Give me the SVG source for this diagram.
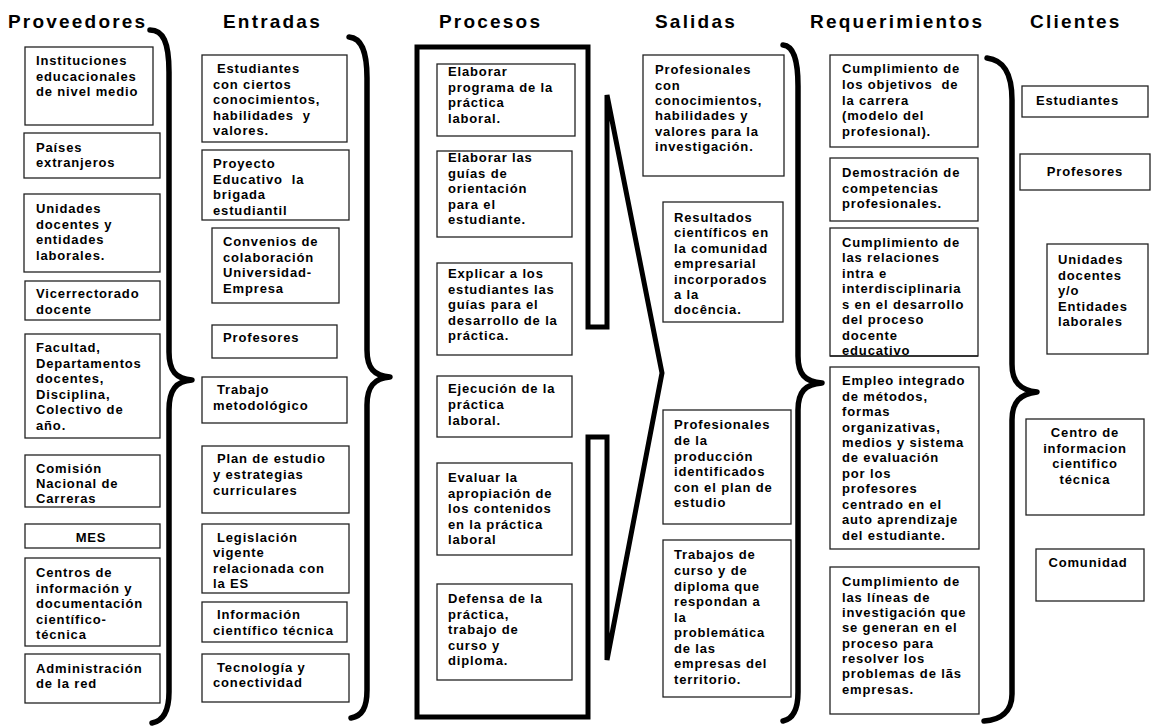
<svg xmlns="http://www.w3.org/2000/svg" width="1153" height="726" viewBox="0 0 1153 726">
  <style>
    .title { font-family: "Liberation Sans", Arial, sans-serif; font-weight: bold; font-size: 19px; letter-spacing: 2.2px; fill: #000; }
    .t { font-family: "Liberation Sans", Arial, sans-serif; font-weight: bold; font-size: 13px; letter-spacing: 0.85px; fill: #000; white-space: pre; }
    .c { text-anchor: middle; }
    .box { fill: #fff; stroke: #222; stroke-width: 1.3; }
    .brace { fill: none; stroke: #000; stroke-width: 5.5; stroke-linecap: round; stroke-linejoin: round; }
    .frame { fill: #fff; stroke: #000; stroke-width: 5; stroke-linejoin: miter; }
  </style>
  <defs>
    <clipPath id="clip-req3"><rect x="830" y="228" width="148" height="128"/></clipPath>
  </defs>
  <rect width="1153" height="726" fill="#fff"/>

  <!-- column headings -->
  <g id="headings">
    <text class="title" x="8" y="28">Proveedores</text>
    <text class="title" x="223" y="28">Entradas</text>
    <text class="title" x="439" y="28">Procesos</text>
    <text class="title" x="655" y="28">Salidas</text>
    <text class="title" x="810" y="28">Requerimientos</text>
    <text class="title" x="1030" y="28">Clientes</text>
  </g>

  <!-- braces and the process frame/arrow -->
  <g id="connectors">
    <path class="brace" d="M150,30 C163,30 169,42 169,72 L169,352 C169,371 176,379 192,380 C176,381 169,390 169,410 L169,692 C169,712 163,721 152,723"/>
    <path class="brace" d="M349,37 C361,38 367,50 367,78 L367,350 C367,368 374,376 390,377 C374,378 367,387 367,405 L367,690 C367,708 362,716 351,718"/>
    <path class="brace" d="M783,45 C793,46 798,58 798,86 L798,356 C798,374 805,382 822,383 C805,384 798,392 798,410 L798,692 C798,710 793,719 783,721"/>
    <path class="brace" d="M987,58 C1003,60 1012,72 1012,100 L1012,364 C1012,382 1020,390 1037,392 C1020,394 1012,402 1012,420 L1012,694 C1012,712 1000,720 984,721"/>
    <path class="frame" d="M417,47 L588,47 L588,327 L607,327 L607,95 L662,373 L607,660 L607,437 L588,437 L588,717 L417,717 Z"/>
  </g>

  <!-- Proveedores -->
  <g id="prov-1"><rect class="box" x="25" y="47" width="128" height="78"/>
    <text class="t"><tspan x="36" y="65">Instituciones</tspan><tspan x="36" y="80.5">educacionales</tspan><tspan x="36" y="96">de nivel medio</tspan></text></g>
  <g id="prov-2"><rect class="box" x="24" y="133" width="136" height="45"/>
    <text class="t"><tspan x="36" y="152">Países</tspan><tspan x="36" y="167">extranjeros</tspan></text></g>
  <g id="prov-3"><rect class="box" x="24" y="194" width="136" height="78"/>
    <text class="t"><tspan x="36" y="213">Unidades</tspan><tspan x="36" y="228.5">docentes y</tspan><tspan x="36" y="244">entidades</tspan><tspan x="36" y="259.5">laborales.</tspan></text></g>
  <g id="prov-4"><rect class="box" x="25" y="281" width="135" height="39"/>
    <text class="t"><tspan x="36" y="298">Vicerrectorado</tspan><tspan x="36" y="314">docente</tspan></text></g>
  <g id="prov-5"><rect class="box" x="25" y="334" width="135" height="104"/>
    <text class="t"><tspan x="36" y="352">Facultad,</tspan><tspan x="36" y="367.6">Departamentos</tspan><tspan x="36" y="383.2">docentes,</tspan><tspan x="36" y="398.8">Disciplina,</tspan><tspan x="36" y="414.4">Colectivo de</tspan><tspan x="36" y="430">año.</tspan></text></g>
  <g id="prov-6"><rect class="box" x="25" y="455" width="135" height="52"/>
    <text class="t"><tspan x="36" y="473">Comisión</tspan><tspan x="36" y="488">Nacional de</tspan><tspan x="36" y="503">Carreras</tspan></text></g>
  <g id="prov-7"><rect class="box" x="25" y="524" width="135" height="24"/>
    <text class="t c" x="91" y="542">MES</text></g>
  <g id="prov-8"><rect class="box" x="25" y="558" width="135" height="88"/>
    <text class="t"><tspan x="36" y="577">Centros de</tspan><tspan x="36" y="592.5">información y</tspan><tspan x="36" y="608">documentación</tspan><tspan x="36" y="623.5">científico-</tspan><tspan x="36" y="639">técnica</tspan></text></g>
  <g id="prov-9"><rect class="box" x="25" y="654" width="135" height="49"/>
    <text class="t"><tspan x="36" y="673">Administración</tspan><tspan x="36" y="688">de la red</tspan></text></g>

  <!-- Entradas -->
  <g id="ent-1"><rect class="box" x="202" y="55" width="145" height="87"/>
    <text class="t"><tspan x="217" y="73">Estudiantes</tspan><tspan x="213" y="88.5">con ciertos</tspan><tspan x="213" y="104">conocimientos,</tspan><tspan x="213" y="119.5">habilidades  y</tspan><tspan x="213" y="135">valores.</tspan></text></g>
  <g id="ent-2"><rect class="box" x="202" y="150" width="147" height="70"/>
    <text class="t"><tspan x="213" y="168">Proyecto</tspan><tspan x="213" y="184">Educativo  la</tspan><tspan x="213" y="199">brigada</tspan><tspan x="213" y="215">estudiantil</tspan></text></g>
  <g id="ent-3"><rect class="box" x="212" y="228" width="127" height="75"/>
    <text class="t"><tspan x="223" y="246">Convenios de</tspan><tspan x="223" y="261.5">colaboración</tspan><tspan x="223" y="277">Universidad-</tspan><tspan x="223" y="292.5">Empresa</tspan></text></g>
  <g id="ent-4"><rect class="box" x="212" y="325" width="125" height="33"/>
    <text class="t" x="223" y="342">Profesores</text></g>
  <g id="ent-5"><rect class="box" x="202" y="377" width="145" height="46"/>
    <text class="t"><tspan x="217" y="394">Trabajo</tspan><tspan x="213" y="410">metodológico</tspan></text></g>
  <g id="ent-6"><rect class="box" x="202" y="446" width="147" height="67"/>
    <text class="t"><tspan x="217" y="463">Plan de estudio</tspan><tspan x="213" y="479">y estrategias</tspan><tspan x="213" y="495">curriculares</tspan></text></g>
  <g id="ent-7"><rect class="box" x="202" y="524" width="147" height="69"/>
    <text class="t"><tspan x="217" y="542">Legislación</tspan><tspan x="213" y="557">vigente</tspan><tspan x="213" y="573">relacionada con</tspan><tspan x="213" y="588">la ES</tspan></text></g>
  <g id="ent-8"><rect class="box" x="202" y="602" width="145" height="40"/>
    <text class="t"><tspan x="217" y="619">Información</tspan><tspan x="213" y="635">científico técnica</tspan></text></g>
  <g id="ent-9"><rect class="box" x="202" y="654" width="147" height="48"/>
    <text class="t"><tspan x="217" y="672">Tecnología y</tspan><tspan x="213" y="687">conectividad</tspan></text></g>

  <!-- Procesos -->
  <g id="proc-1"><rect class="box" x="437" y="64" width="138" height="72"/>
    <text class="t"><tspan x="448" y="76">Elaborar</tspan><tspan x="448" y="91.5">programa de la</tspan><tspan x="448" y="107">práctica</tspan><tspan x="448" y="122.5">laboral.</tspan></text></g>
  <g id="proc-2"><rect class="box" x="437" y="151" width="135" height="86"/>
    <text class="t"><tspan x="448" y="162">Elaborar las</tspan><tspan x="448" y="177.5">guías de</tspan><tspan x="448" y="193">orientación</tspan><tspan x="448" y="208.5">para el</tspan><tspan x="448" y="224">estudiante.</tspan></text></g>
  <g id="proc-3"><rect class="box" x="437" y="263" width="135" height="92"/>
    <text class="t"><tspan x="448" y="278">Explicar a los</tspan><tspan x="448" y="293.5">estudiantes las</tspan><tspan x="448" y="309">guías para el</tspan><tspan x="448" y="324.5">desarrollo de la</tspan><tspan x="448" y="340">práctica.</tspan></text></g>
  <g id="proc-4"><rect class="box" x="437" y="376" width="135" height="61"/>
    <text class="t"><tspan x="448" y="393">Ejecución de la</tspan><tspan x="448" y="409">práctica</tspan><tspan x="448" y="425">laboral.</tspan></text></g>
  <g id="proc-5"><rect class="box" x="437" y="463" width="135" height="92"/>
    <text class="t"><tspan x="448" y="482">Evaluar la</tspan><tspan x="448" y="497.5">apropiación de</tspan><tspan x="448" y="513">los contenidos</tspan><tspan x="448" y="528.5">en la práctica</tspan><tspan x="448" y="544">laboral</tspan></text></g>
  <g id="proc-6"><rect class="box" x="437" y="584" width="135" height="96"/>
    <text class="t"><tspan x="448" y="603">Defensa de la</tspan><tspan x="448" y="618.5">práctica,</tspan><tspan x="448" y="634">trabajo de</tspan><tspan x="448" y="649.5">curso y</tspan><tspan x="448" y="665">diploma.</tspan></text></g>

  <!-- Salidas -->
  <g id="sal-1"><rect class="box" x="643" y="55" width="141" height="121"/>
    <text class="t"><tspan x="655" y="74">Profesionales</tspan><tspan x="655" y="89.5">con</tspan><tspan x="655" y="105">conocimientos,</tspan><tspan x="655" y="120">habilidades y</tspan><tspan x="655" y="135.5">valores para la</tspan><tspan x="655" y="151">investigación.</tspan></text></g>
  <g id="sal-2"><rect class="box" x="663" y="202" width="120" height="120"/>
    <text class="t"><tspan x="674" y="222">Resultados</tspan><tspan x="674" y="237">científicos en</tspan><tspan x="674" y="252.5">la comunidad</tspan><tspan x="674" y="268">empresarial</tspan><tspan x="674" y="283.5">incorporados</tspan><tspan x="674" y="299">a la</tspan><tspan x="674" y="314">docência.</tspan></text></g>
  <g id="sal-3"><rect class="box" x="663" y="410" width="128" height="114"/>
    <text class="t"><tspan x="674" y="429">Profesionales</tspan><tspan x="674" y="445">de la</tspan><tspan x="674" y="461">producción</tspan><tspan x="674" y="476">identificados</tspan><tspan x="674" y="492">con el plan de</tspan><tspan x="674" y="507">estudio</tspan></text></g>
  <g id="sal-4"><rect class="box" x="663" y="540" width="128" height="157"/>
    <text class="t"><tspan x="674" y="559">Trabajos de</tspan><tspan x="674" y="575">curso y de</tspan><tspan x="674" y="591">diploma que</tspan><tspan x="674" y="606">respondan a</tspan><tspan x="674" y="622">la</tspan><tspan x="674" y="637">problemática</tspan><tspan x="674" y="653">de las</tspan><tspan x="674" y="668">empresas del</tspan><tspan x="674" y="684">territorio.</tspan></text></g>

  <!-- Requerimientos -->
  <g id="req-1"><rect class="box" x="830" y="55" width="148" height="92"/>
    <text class="t"><tspan x="842" y="73">Cumplimiento de</tspan><tspan x="842" y="89">los objetivos  de</tspan><tspan x="842" y="105">la carrera</tspan><tspan x="842" y="120">(modelo del</tspan><tspan x="842" y="136">profesional).</tspan></text></g>
  <g id="req-2"><rect class="box" x="830" y="158" width="148" height="63"/>
    <text class="t"><tspan x="842" y="177">Demostración de</tspan><tspan x="842" y="193">competencias</tspan><tspan x="842" y="208">profesionales.</tspan></text></g>
  <g id="req-3"><rect class="box" x="830" y="228" width="148" height="128"/>
    <text class="t" clip-path="url(#clip-req3)"><tspan x="842" y="247">Cumplimiento de</tspan><tspan x="842" y="262">las relaciones</tspan><tspan x="842" y="277.5">intra e</tspan><tspan x="842" y="293">interdisciplinaria</tspan><tspan x="842" y="308.5">s en el desarrollo</tspan><tspan x="842" y="324">del proceso</tspan><tspan x="842" y="339.5">docente</tspan><tspan x="842" y="355">educativo</tspan></text>
    <line x1="830" y1="356" x2="978" y2="356" stroke="#222" stroke-width="1.3"/></g>
  <g id="req-4"><rect class="box" x="830" y="367" width="149" height="182"/>
    <text class="t"><tspan x="842" y="385">Empleo integrado</tspan><tspan x="842" y="400.5">de métodos,</tspan><tspan x="842" y="416">formas</tspan><tspan x="842" y="431.5">organizativas,</tspan><tspan x="842" y="447">medios y sistema</tspan><tspan x="842" y="462">de evaluación</tspan><tspan x="842" y="477.5">por los</tspan><tspan x="842" y="493">profesores</tspan><tspan x="842" y="508.5">centrado en el</tspan><tspan x="842" y="524">auto aprendizaje</tspan><tspan x="842" y="539.5">del estudiante.</tspan></text></g>
  <g id="req-5"><rect class="box" x="830" y="567" width="149" height="147"/>
    <text class="t"><tspan x="842" y="586">Cumplimiento de</tspan><tspan x="842" y="601.5">las líneas de</tspan><tspan x="842" y="617">investigación que</tspan><tspan x="842" y="632">se generan en el</tspan><tspan x="842" y="647.5">proceso para</tspan><tspan x="842" y="663">resolver los</tspan><tspan x="842" y="678">problemas de lãs</tspan><tspan x="842" y="693.5">empresas.</tspan></text></g>

  <!-- Clientes -->
  <g id="cli-1"><rect class="box" x="1022" y="86" width="126" height="31"/>
    <text class="t" x="1036" y="105">Estudiantes</text></g>
  <g id="cli-2"><rect class="box" x="1020" y="154" width="130" height="36"/>
    <text class="t c" x="1085" y="176">Profesores</text></g>
  <g id="cli-3"><rect class="box" x="1047" y="244" width="101" height="110"/>
    <text class="t"><tspan x="1058" y="264">Unidades</tspan><tspan x="1058" y="279.5">docentes</tspan><tspan x="1058" y="295">y/o</tspan><tspan x="1058" y="310.5">Entidades</tspan><tspan x="1058" y="326">laborales</tspan></text></g>
  <g id="cli-4"><rect class="box" x="1026" y="419" width="118" height="96"/>
    <text class="t c"><tspan x="1085" y="437">Centro de</tspan><tspan x="1085" y="453">informacion</tspan><tspan x="1085" y="468">cientifico</tspan><tspan x="1085" y="484">técnica</tspan></text></g>
  <g id="cli-5"><rect class="box" x="1036" y="549" width="108" height="52"/>
    <text class="t c" x="1088" y="567">Comunidad</text></g>
</svg>
